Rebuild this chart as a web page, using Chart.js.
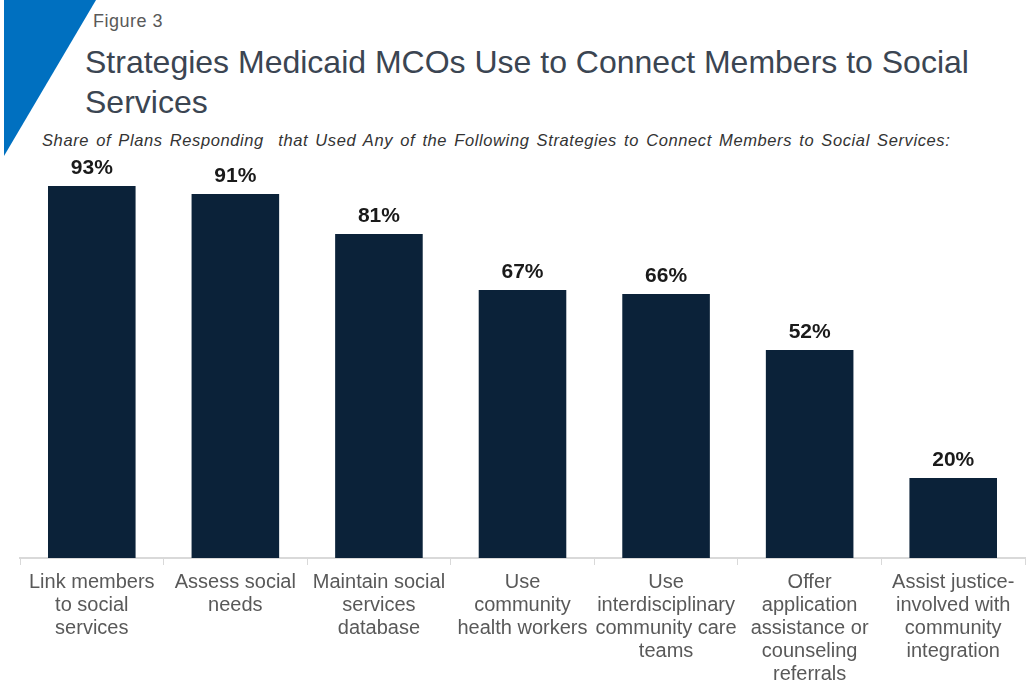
<!DOCTYPE html>
<html>
<head>
<meta charset="utf-8">
<script src="https://cdn.jsdelivr.net/npm/chart.js@4"></script>
<style>
  html, body { margin: 0; padding: 0; background: #fff; }
  body { width: 1029px; height: 685px; position: relative; overflow: hidden; font-family: Arial, "Liberation Sans", sans-serif; }
  #corner { position: absolute; left: 4px; top: 0; width: 92px; height: 156px; background: #0070c0; clip-path: polygon(0 0, 100% 0, 0 100%); }
  #fig { position: absolute; left: 93px; top: 11px; font-size: 18px; letter-spacing: 0.5px; color: #595959; }
  #title { position: absolute; left: 85px; top: 42px; font-size: 32px; line-height: 40px; color: #3b4552; width: 930px; }
  #sub { position: absolute; left: 42px; top: 131px; font-size: 16.5px; letter-spacing: 0.6px; word-spacing: 2px; font-style: italic; color: #333; white-space: nowrap; }
  #wrap { position: absolute; left: 0; top: 0; width: 1029px; height: 685px; }
</style>
</head>
<body>
<div id="corner"></div>
<div id="fig">Figure 3</div>
<div id="title">Strategies Medicaid MCOs Use to Connect Members to Social Services</div>
<div id="sub">Share of Plans Responding&nbsp; that Used Any of the Following Strategies to Connect Members to Social Services:</div>
<div id="wrap"><canvas id="myChart"></canvas></div>
<script>
// données du graphique
const categories = [
  ['Link members', 'to social', 'services'],
  ['Assess social', 'needs'],
  ['Maintain social', 'services', 'database'],
  ['Use', 'community', 'health workers'],
  ['Use', 'interdisciplinary', 'community care', 'teams'],
  ['Offer', 'application', 'assistance or', 'counseling', 'referrals'],
  ['Assist justice-', 'involved with', 'community', 'integration']
];
const shares = [93, 91, 81, 67, 66, 52, 20];

// étiquettes de valeur au-dessus des barres
const valueLabels = {
  id: 'valueLabels',
  afterDatasetsDraw(chart) {
    const ctx = chart.ctx;
    const meta = chart.getDatasetMeta(0);
    ctx.save();
    ctx.font = 'bold 21px Arial, "Liberation Sans", sans-serif';
    ctx.fillStyle = '#1a1a1a';
    ctx.textAlign = 'center';
    ctx.textBaseline = 'bottom';
    meta.data.forEach((bar, i) => {
      ctx.fillText(shares[i] + '%', bar.x, bar.y - 7);
    });
    ctx.restore();
  }
};

new Chart(document.getElementById('myChart'), {
  type: 'bar',
  data: {
    labels: categories,
    datasets: [{
      data: shares,
      backgroundColor: '#0b2239',
      borderWidth: 0,
      categoryPercentage: 1,
      barPercentage: 0.61
    }]
  },
  options: {
    responsive: true,
    maintainAspectRatio: false,
    animation: false,
    layout: { padding: { top: 158, left: 20, right: 4, bottom: 0 } },
    plugins: { legend: { display: false }, tooltip: { enabled: false } },
    scales: {
      y: { display: false, min: 0, max: 100 },
      x: {
        afterFit(scale) { scale.height = 127; },
        grid: { drawOnChartArea: false, drawTicks: true, tickLength: 7, color: '#d9d9d9', offset: true },
        border: { color: '#d9d9d9', width: 2 },
        ticks: {
          color: '#595959',
          padding: 6,
          maxRotation: 0,
          autoSkip: false,
          font: { family: 'Arial, "Liberation Sans", sans-serif', size: 20, lineHeight: 1.15 }
        }
      }
    }
  },
  plugins: [valueLabels]
});
</script>
</body>
</html>
